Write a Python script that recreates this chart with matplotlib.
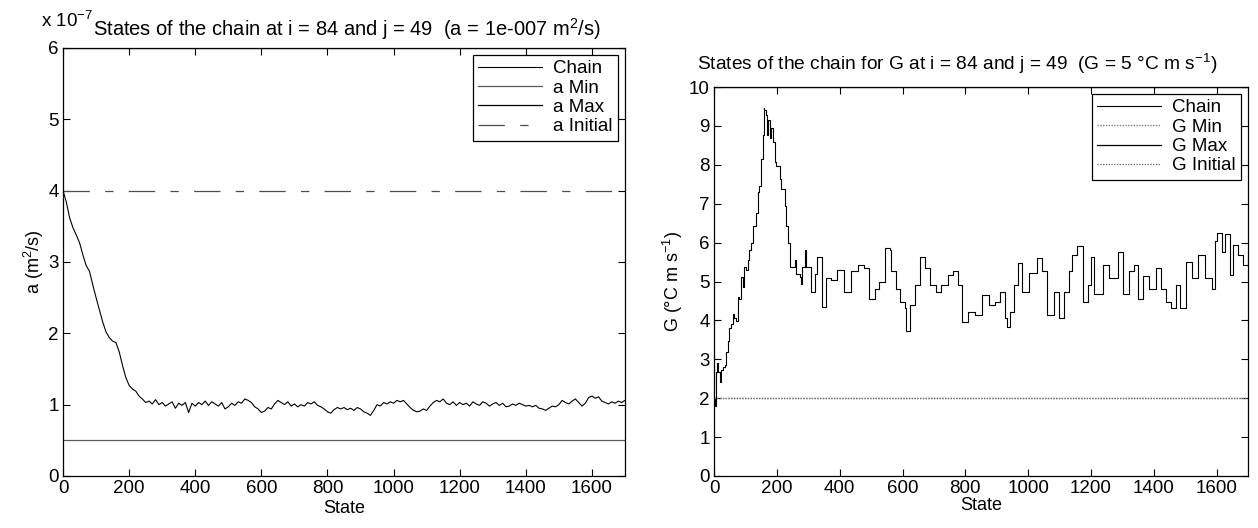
import numpy as np
import matplotlib
matplotlib.use('Agg')
import matplotlib.pyplot as plt

plt.rcParams['font.family'] = ['Liberation Sans', 'DejaVu Sans']
plt.rcParams['mathtext.default'] = 'regular'
plt.rcParams['font.size'] = 13
plt.rcParams['lines.scale_dashes'] = False

# ---- left chain: diffusivity a (units of 1e-7 m^2/s), read every 10 states
a_states = np.arange(0, 1710, 10)
a_chain = [4.00, 3.84, 3.62, 3.48, 3.38, 3.27, 3.10, 2.95, 2.87, 2.68,
           2.50, 2.33, 2.16, 2.02, 1.94, 1.89, 1.87, 1.74, 1.55, 1.38,
           1.27, 1.22, 1.19, 1.12, 1.08, 1.03, 1.05, 1.01, 1.07, 1.00,
           1.03, 0.98, 1.01, 1.04, 0.95, 1.02, 0.99, 1.03, 0.89, 1.02,
           0.98, 1.03, 1.00, 1.05, 0.99, 1.04, 1.01, 0.98, 1.03, 0.94,
           0.97, 1.02, 0.99, 1.04, 1.02, 1.08, 1.06, 1.03, 0.97, 0.94,
           0.89, 0.91, 0.96, 0.94, 1.01, 1.06, 1.03, 1.00, 1.04, 0.98,
           1.01, 0.97, 1.00, 0.98, 1.03, 1.01, 1.04, 0.99, 0.97, 0.94,
           0.90, 0.88, 0.93, 0.96, 0.94, 0.96, 0.93, 0.95, 0.92, 0.96,
           0.94, 0.90, 0.88, 0.85, 0.92, 1.00, 0.98, 1.03, 1.01, 1.04,
           1.02, 1.06, 1.04, 1.06, 1.01, 0.96, 0.92, 0.90, 0.91, 0.94,
           0.92, 0.98, 1.03, 1.06, 1.04, 1.08, 1.02, 1.00, 1.04, 0.99,
           1.03, 1.00, 1.02, 0.98, 1.04, 1.01, 0.99, 1.04, 1.02, 0.98,
           1.01, 1.03, 0.99, 1.02, 0.97, 0.98, 1.01, 0.99, 1.02, 1.00,
           0.98, 0.99, 0.97, 0.99, 0.95, 0.94, 0.92, 0.95, 0.98, 0.97,
           1.00, 1.06, 1.03, 1.01, 1.05, 1.08, 1.03, 0.98, 1.02, 1.10,
           1.12, 1.09, 1.11, 1.05, 1.03, 1.01, 1.04, 1.02, 1.05, 1.03,
           1.06]
a_min = 0.5
a_max = 6.0
a_init = 4.0

# ---- right chain: G (degC m/s)
g_states = [0, 3, 5, 7, 11, 14, 18, 21, 27, 35, 37, 43, 48, 53, 59, 64, 70,
            75, 80, 86, 91, 96, 102, 107, 112, 118, 123, 128, 134, 139, 144,
            150, 155, 158, 160, 164, 166, 169, 172, 177, 182, 187, 193, 198,
            209, 214, 225, 230, 235, 241, 243, 251, 257, 262, 273, 276, 281,
            289, 294, 308, 320, 329, 345, 356, 372, 393, 414, 436, 457, 478,
            494, 511, 526, 543, 545, 559, 564, 580, 591, 607, 612, 623, 639,
            657, 671, 687, 708, 724, 746, 761, 777, 788, 810, 831, 852, 874,
            895, 911, 927, 932, 943, 954, 968, 980, 1002, 1029, 1045, 1061,
            1082, 1098, 1114, 1130, 1141, 1157, 1173, 1189, 1200, 1210, 1237,
            1258, 1285, 1301, 1322, 1338, 1349, 1365, 1386, 1408, 1424, 1440,
            1456, 1472, 1482, 1504, 1520, 1541, 1562, 1584, 1594, 1600, 1616,
            1627, 1643, 1653, 1669, 1685, 1700]
g_chain = [1.98, 1.81, 2.33, 2.68, 2.90, 2.68, 2.42, 2.72, 2.81, 2.85, 3.20,
           3.46, 3.81, 3.90, 4.16, 4.07, 3.98, 4.59, 4.55, 5.11, 4.85, 5.37,
           5.29, 5.55, 5.81, 5.98, 6.42, 6.42, 6.77, 7.29, 7.46, 8.16, 8.77,
           9.46, 9.42, 9.29, 9.29, 8.77, 9.16, 8.68, 8.94, 8.59, 8.07, 7.98,
           7.63, 7.37, 6.94, 6.42, 5.98, 5.81, 5.37, 5.37, 5.55, 5.20, 5.11,
           4.94, 5.37, 5.81, 5.37, 4.74, 5.20, 5.64, 4.35, 5.08, 5.04, 5.30,
           4.74, 5.26, 5.43, 5.34, 4.56, 4.82, 5.00, 5.26, 5.86, 5.82, 5.26,
           4.82, 4.48, 4.31, 3.74, 4.39, 4.91, 5.64, 5.34, 4.91, 4.74, 4.91,
           5.17, 5.26, 4.91, 3.96, 4.22, 4.13, 4.65, 4.39, 4.48, 4.74, 4.05,
           3.83, 4.22, 4.91, 5.47, 4.74, 5.21, 5.60, 5.26, 4.13, 4.74, 4.05,
           4.74, 5.26, 5.69, 5.90, 4.48, 4.91, 5.64, 4.69, 5.43, 5.08, 5.77,
           4.69, 5.26, 5.43, 4.56, 5.13, 4.82, 5.34, 4.82, 4.48, 4.31, 4.91,
           4.31, 5.51, 5.08, 5.69, 5.08, 4.82, 6.03, 6.25, 5.77, 6.21, 5.17,
           5.95, 5.69, 5.43, 5.60]
g_min = 2.0
g_max = 10.0
g_init = 2.0

n_states = 1700

fig = plt.figure(figsize=(12.58, 5.28), dpi=100)
ax1 = fig.add_axes([0.0501, 0.0985, 0.4467, 0.8106])
ax2 = fig.add_axes([0.5676, 0.0985, 0.4245, 0.7367])

leg_kw = dict(loc='upper right', fontsize=13.5, handlelength=3.4, labelspacing=0.12,
              borderpad=0.3, handletextpad=0.6, borderaxespad=0.35,
              fancybox=False, framealpha=1, edgecolor='black')

# left panel
ax1.plot(a_states, a_chain, color='black', lw=0.8, label='Chain')
ax1.plot([0, n_states], [a_min, a_min], color='0.35', lw=0.9, label='a Min')
ax1.plot([0, n_states], [a_max, a_max], color='black', lw=0.9, label='a Max')
ax1.plot([0, n_states], [a_init, a_init], color='0.3', lw=0.9,
         linestyle=(0, (19, 11, 6, 11)), label='a Initial')
ax1.set_xlim(0, n_states)
ax1.set_ylim(0, 6)
ax1.set_xticks(np.arange(0, 1700, 200))
ax1.set_yticks(np.arange(0, 7, 1))
ax1.set_xlabel('State', labelpad=2)
ax1.set_ylabel('a (m$^2$/s)', labelpad=2)
ax1.set_title('States of the chain at i = 84 and j = 49  (a = 1e-007 m$^2$/s)',
              fontsize=14.5, pad=9, x=0.505)
ax1.text(-0.04, 1.04, 'x 10$^{-7}$', transform=ax1.transAxes, ha='left',
         va='bottom', fontsize=13.5)
leg1 = ax1.legend(**leg_kw)
leg1.get_frame().set_linewidth(0.9)

# right panel
ax2.step(g_states, g_chain, where='post', color='black', lw=0.8, label='Chain')
ax2.plot([0, n_states], [g_min, g_min], color='0.5', lw=1.0, linestyle=(0, (1, 1)), label='G Min')
ax2.plot([0, n_states], [g_max, g_max], color='black', lw=0.9, label='G Max')
ax2.plot([0, n_states], [g_init, g_init], color='0.45', lw=0.9, linestyle=(0, (1, 1)), label='G Initial')
ax2.set_xlim(0, n_states)
ax2.set_ylim(0, 10)
ax2.set_xticks(np.arange(0, 1700, 200))
ax2.set_yticks(np.arange(0, 11, 1))
ax2.set_xlabel('State', labelpad=0)
ax2.set_ylabel('G ($\\degree$C m s$^{-1}$)', labelpad=3)
ax2.set_title('States of the chain for G at i = 84 and j = 49  (G = 5 $\\degree$C m s$^{-1}$)',
              fontsize=13.8, pad=12, x=0.455)
leg2 = ax2.legend(**leg_kw)
leg2.get_frame().set_linewidth(0.9)

for ax in (ax1, ax2):
    ax.tick_params(direction='in', top=True, right=True, length=5, width=0.8,
                   labelsize=13.5, pad=3)
    for s in ax.spines.values():
        s.set_linewidth(0.9)

fig.savefig('out.png', dpi=100)
